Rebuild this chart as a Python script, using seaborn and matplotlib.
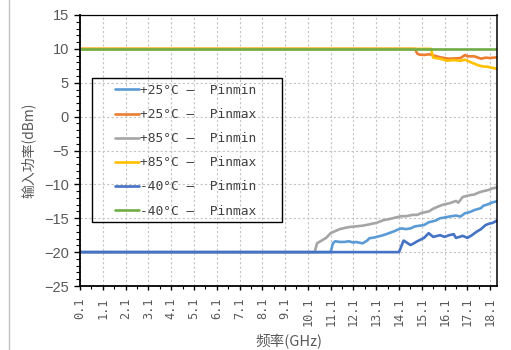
import numpy as np
import pandas as pd
import matplotlib
matplotlib.use("Agg")
import matplotlib.pyplot as plt
import seaborn as sns
from matplotlib.ticker import FixedLocator, MultipleLocator
from matplotlib.lines import Line2D
from matplotlib.patches import Rectangle
from matplotlib.font_manager import FontProperties

# ---------------- data ----------------
series_names = ["+25°C –  Pinmin", "+25°C –  Pinmax", "+85°C –  Pinmin",
                "+85°C –  Pinmax", "-40°C –  Pinmin", "-40°C –  Pinmax"]
colors = ["#5B9BD5", "#ED7D31", "#A5A5A5", "#FFC000", "#4472C4", "#70AD47"]

p25_min_f = [0.1, 11.1, 11.2, 11.3, 11.5, 11.7, 11.9, 12.1, 12.2, 12.5, 12.7, 12.8,
             13.0, 13.3, 13.5, 13.7, 13.9, 14.1, 14.2, 14.4, 14.6, 14.8, 15.0, 15.2,
             15.4, 15.7, 15.9, 16.1, 16.3, 16.6, 16.8, 17.0, 17.2, 17.4, 17.7, 17.8,
             18.0, 18.2, 18.4]
p25_min_v = [-20, -20, -18.7, -18.4, -18.5, -18.5, -18.4, -18.6, -18.5, -18.7, -18.3,
             -17.95, -17.85, -17.6, -17.4, -17.15, -16.9, -16.6, -16.5, -16.6, -16.5,
             -16.2, -16.1, -16.0, -15.6, -15.35, -15.0, -14.9, -14.75, -14.6, -14.75,
             -14.25, -14.1, -13.8, -13.5, -13.15, -12.95, -12.65, -12.5]

p25_max_f = [0.1, 14.8, 14.9, 15.0, 15.2, 15.4, 15.5, 15.8, 16.0, 16.3, 16.6, 16.8,
             17.0, 17.1, 17.4, 17.7, 17.9, 18.1, 18.4]
p25_max_v = [10, 10, 9.3, 9.15, 9.1, 9.2, 9.15, 8.85, 8.7, 8.55, 8.6, 8.65,
             9.1, 8.9, 8.9, 8.55, 8.7, 8.65, 8.75]

p85_min_f = [0.1, 10.4, 10.5, 10.7, 10.9, 11.1, 11.3, 11.5, 11.9, 12.2, 12.5, 12.8,
             13.0, 13.1, 13.4, 13.7, 14.0, 14.2, 14.4, 14.7, 14.9, 15.1, 15.4, 15.6,
             15.9, 16.1, 16.3, 16.6, 16.7, 16.9, 17.2, 17.4, 17.6, 17.8, 18.0, 18.2,
             18.4]
p85_min_v = [-20, -20, -18.7, -18.3, -17.9, -17.2, -16.9, -16.6, -16.3, -16.2, -16.1,
             -15.9, -15.75, -15.7, -15.3, -15.1, -14.85, -14.7, -14.7, -14.5, -14.5,
             -14.2, -14.0, -13.6, -13.15, -12.95, -12.8, -12.45, -12.7, -11.85, -11.6,
             -11.5, -11.2, -11.0, -10.85, -10.6, -10.45]

p85_max_f = [0.1, 15.5, 15.6, 15.9, 16.2, 16.5, 16.8, 17.0, 17.3, 17.6, 17.8, 18.0,
             18.2, 18.4]
p85_max_v = [10, 10, 8.7, 8.55, 8.25, 8.35, 8.25, 8.4, 7.95, 7.55, 7.4, 7.35, 7.2, 7.05]

m40_min_f = [0.1, 14.1, 14.3, 14.4, 14.6, 14.7, 14.9, 15.2, 15.4, 15.6, 15.9, 16.1,
             16.3, 16.5, 16.6, 16.9, 17.1, 17.3, 17.5, 17.7, 17.9, 18.1, 18.2, 18.4]
m40_min_v = [-20, -20, -18.3, -18.5, -18.95, -18.8, -18.4, -17.9, -17.2, -17.75, -17.5,
             -17.75, -17.5, -17.35, -17.9, -17.6, -17.9, -17.5, -17.0, -16.6, -16.0,
             -15.75, -15.7, -15.35]

m40_max_f = [0.1, 18.4]
m40_max_v = [10, 10]

x_tick_values = [0.1, 1.1, 2.1, 3.1, 4.1, 5.1, 6.1, 7.1, 8.1, 9.1, 10.1, 11.1, 12.1,
                 13.1, 14.1, 15.1, 16.1, 17.1, 18.1]
x_tick_labels = ["0.1", "1.1", "2.1", "3.1", "4.1", "5.1", "6.1", "7.1", "8.1", "9.1",
                 "10.1", "11.1", "12.1", "13.1", "14.1", "15.1", "16.1", "17.1", "18.1"]

# ---------------- build long table ----------------
all_f = [p25_min_f, p25_max_f, p85_min_f, p85_max_f, m40_min_f, m40_max_f]
all_v = [p25_min_v, p25_max_v, p85_min_v, p85_max_v, m40_min_v, m40_max_v]
frames = []
for name, f, v in zip(series_names, all_f, all_v):
    frames.append(pd.DataFrame({"freq": f, "value": v, "series": name}))
df = pd.concat(frames, ignore_index=True)

# ---------------- plot ----------------
sns.set_style("white")
W, H = 511, 350
fig = plt.figure(figsize=(W / 100, H / 100), dpi=100)
ax_l, ax_r, ax_t, ax_b = 80, 497, 15, 286
ax = fig.add_axes([ax_l / W, 1 - ax_b / H, (ax_r - ax_l) / W, (ax_b - ax_t) / H])

sns.lineplot(data=df, x="freq", y="value", hue="series", hue_order=series_names,
             palette=colors, estimator=None, sort=False, linewidth=1.9, ax=ax,
             legend=True)

ax.set_xlim(0.1, 18.4)
ax.set_ylim(-25, 15)

grey = "#595959"
ax.xaxis.set_major_locator(FixedLocator(x_tick_values))
ax.xaxis.set_minor_locator(FixedLocator([t + 0.5 for t in x_tick_values[:-1]]))
ax.set_xticklabels(x_tick_labels, rotation=90, fontsize=8.6, color=grey,
                   family="DejaVu Sans Mono")
ax.yaxis.set_major_locator(MultipleLocator(5))
ax.yaxis.set_minor_locator(MultipleLocator(1))
for lab in ax.get_yticklabels():
    lab.set_fontsize(10.5)
    lab.set_color(grey)
    lab.set_family("Liberation Sans")

ax.tick_params(axis="both", which="both", direction="out", color="black",
               bottom=True, left=True, top=False, right=False)
ax.tick_params(axis="y", which="major", length=4, width=1, pad=4)
ax.tick_params(axis="y", which="minor", length=3, width=0.8)
ax.tick_params(axis="x", which="major", length=3.2, width=1, pad=5)
ax.tick_params(axis="x", which="minor", length=2, width=0.8)

ax.grid(True, which="major", color="#c4c4c4", linestyle=(0, (2, 2)), linewidth=0.8)
ax.set_axisbelow(True)

for side, sp in ax.spines.items():
    sp.set_visible(True)
    sp.set_color("black")
ax.spines["left"].set_linewidth(1.3)
ax.spines["bottom"].set_linewidth(1.3)
ax.spines["top"].set_linewidth(0.9)
ax.spines["right"].set_linewidth(1.1)

cjk = ["Noto Sans CJK SC", "DejaVu Sans"]
ax.set_ylabel("输入功率(dBm)", family=cjk, fontsize=10, color=grey, labelpad=6)
ax.set_xlabel("频率(GHz)", family=cjk, fontsize=10.5, color=grey, labelpad=6)

# legend
handles, labels = ax.get_legend_handles_labels()
ax.legend(handles, labels, loc="upper left",
          bbox_to_anchor=((115 - ax_l) / (ax_r - ax_l), 1 - (84 - ax_t) / (ax_b - ax_t)),
          frameon=False, borderpad=0, borderaxespad=0,
          prop=FontProperties(family="DejaVu Sans Mono", size=9.3),
          labelcolor="#404040",
          handlelength=1.85, handletextpad=0.05, labelspacing=0.86)
ax.add_patch(Rectangle((92 / W, 1 - 222 / H), 190 / W, 144 / H,
                       transform=fig.transFigure, fill=False, edgecolor="black",
                       linewidth=1.0, zorder=5, clip_on=False))

# left panel border line
fig.add_artist(Line2D([9 / W, 9 / W], [0, 1], transform=fig.transFigure,
                      color="#c0c0c0", linewidth=1.0))

fig.savefig("out.png", dpi=100, facecolor="white")
